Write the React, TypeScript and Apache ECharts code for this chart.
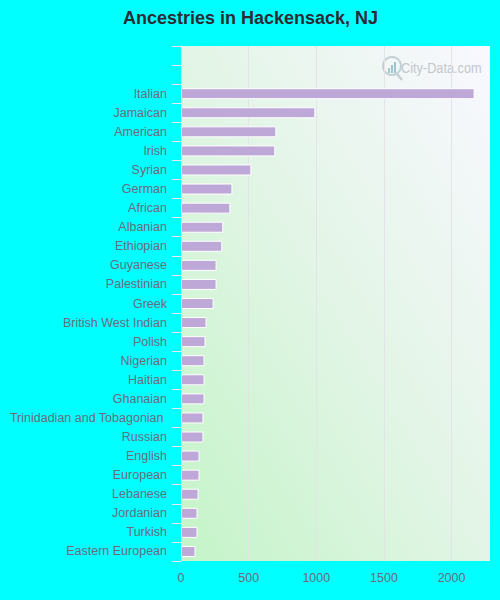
import React, { useEffect, useRef } from "react";
import * as echarts from "echarts";

const categories = ["", "", "Italian", "Jamaican", "American", "Irish", "Syrian", "German", "African", "Albanian", "Ethiopian", "Guyanese", "Palestinian", "Greek", "British West Indian", "Polish", "Nigerian", "Haitian", "Ghanaian", "Trinidadian and Tobagonian ", "Russian", "English", "European", "Lebanese", "Jordanian", "Turkish", "Eastern European"];
const values = [null, null, 2170, 993, 705, 697, 520, 380, 365, 312, 305, 263, 263, 241, 189, 181, 174, 174, 174, 166, 166, 137, 137, 130, 122, 122, 107];
const FONT = "'Liberation Sans', Arial, sans-serif";
const TEXT = "#6b6b7d";

export default function App() {
  const ref = useRef<HTMLDivElement>(null);
  useEffect(() => {
    document.body.style.margin = "0";
    const chart = echarts.init(ref.current!, null, { renderer: "svg" });
    chart.setOption({
      animation: false,
      backgroundColor: "#00ffff",
      title: {
        text: "Ancestries in Hackensack, NJ",
        left: 245.5,
        top: 4,
        textAlign: "center",
        textStyle: { fontFamily: FONT, fontSize: 18, fontWeight: "bold", color: "#2b2b35" },
      },
      grid: {
        left: 181,
        top: 46,
        width: 309,
        height: 515,
        show: true,
        borderWidth: 0,
        backgroundColor: new echarts.graphic.LinearGradient(0, 1, 1, 0, [
          { offset: 0, color: "#c4f4c8" },
          { offset: 0.5, color: "#e2f5e6" },
          { offset: 1, color: "#f9f8ff" },
        ]),
      },
      xAxis: {
        type: "value",
        min: 0,
        max: 2284,
        interval: 500,
        axisLine: { show: false },
        axisTick: { show: false },
        axisLabel: { color: TEXT, fontFamily: FONT, fontSize: 12.5, margin: 10, showMaxLabel: false, formatter: (v: number) => String(v) },
        splitLine: { show: true, showMinLine: false, showMaxLine: false, lineStyle: { color: "#e4e4e8", width: 1 } },
      },
      yAxis: {
        type: "category",
        inverse: true,
        data: categories,
        axisLine: { show: true, lineStyle: { color: "#f0e0f4", width: 1 } },
        axisTick: { show: true, length: 9, interval: 0, lineStyle: { color: "#f4e4f4", width: 1 } },
        axisLabel: { color: TEXT, fontFamily: FONT, fontSize: 12.5, margin: 14, interval: 0 },
      },
      series: [
        {
          type: "bar",
          data: values,
          barWidth: 11,
          itemStyle: { color: "#bea8d8", borderColor: "#ffffff", borderWidth: 1 },
          silent: true,
        },
      ],
      graphic: [
        { type: "ring", shape: { cx: 392, cy: 66, r: 10, r0: 8 }, style: { fill: "#c3d0d4" }, silent: true },
        { type: "line", shape: { x1: 397, y1: 74, x2: 402, y2: 80 }, style: { stroke: "#c3d0d4", lineWidth: 2.5 }, silent: true },
        { type: "rect", shape: { x: 388, y: 68, width: 2, height: 5 }, style: { fill: "#a8c8d2" }, silent: true },
        { type: "rect", shape: { x: 391, y: 65, width: 2, height: 8 }, style: { fill: "#9cc4cf" }, silent: true },
        { type: "rect", shape: { x: 394, y: 62, width: 2, height: 11 }, style: { fill: "#9cc4cf" }, silent: true },
        { type: "text", x: 401, y: 68, scaleX: 0.85, style: { text: "City-Data.com", fill: "#c2c8cc", font: "15px 'Liberation Sans', Arial, sans-serif", verticalAlign: "middle" }, silent: true },
      ],
    });
    return () => chart.dispose();
  }, []);
  return <div ref={ref} style={{ width: 500, height: 600 }} />;
}
